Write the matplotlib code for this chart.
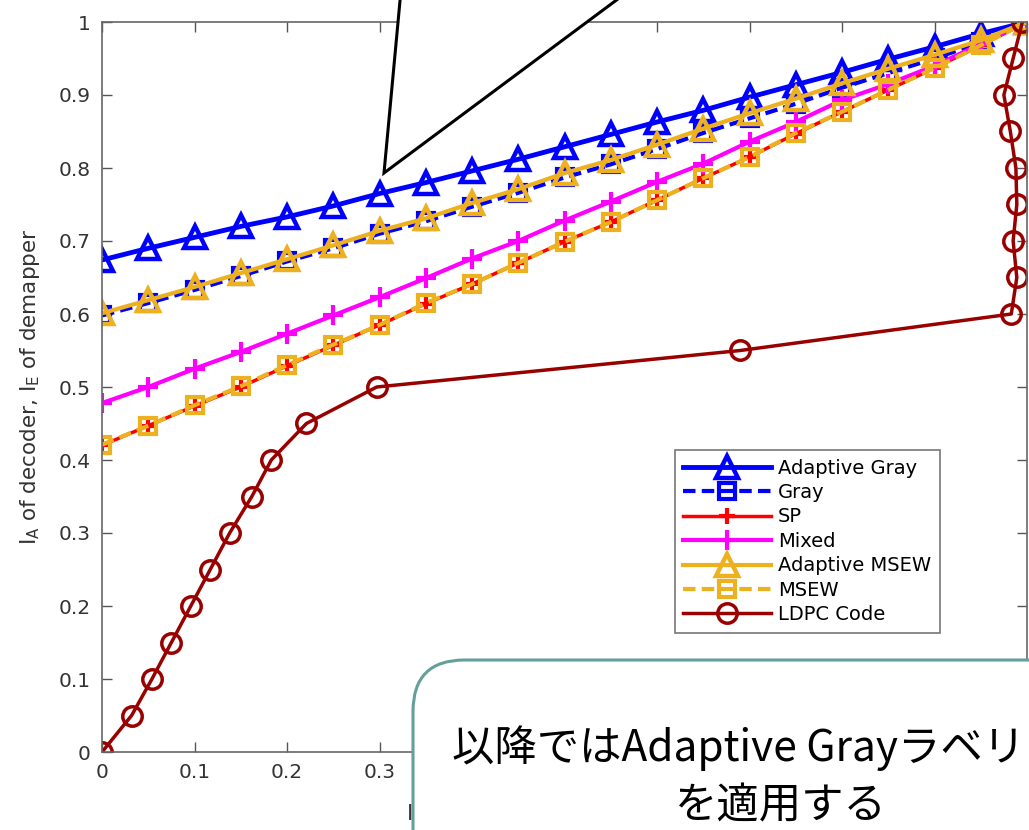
import matplotlib
matplotlib.use('Agg')
import matplotlib.pyplot as plt
from matplotlib.patches import Polygon, FancyBboxPatch
from matplotlib.ticker import FixedFormatter

# EXIT chart data
x_map = [0, 0.05, 0.1, 0.15, 0.2, 0.25, 0.3, 0.35, 0.4, 0.45, 0.5,
         0.55, 0.6, 0.65, 0.7, 0.75, 0.8, 0.85, 0.9, 0.95, 1.0]
adaptive_gray = [0.674, 0.69, 0.705, 0.72, 0.733, 0.748, 0.765, 0.78, 0.796, 0.812, 0.829,
                 0.846, 0.863, 0.879, 0.897, 0.914, 0.931, 0.949, 0.966, 0.984, 1.0]
gray = [0.598, 0.615, 0.633, 0.652, 0.672, 0.69, 0.71, 0.727, 0.747, 0.766, 0.787,
        0.805, 0.826, 0.848, 0.868, 0.888, 0.91, 0.93, 0.95, 0.972, 1.0]
sp = [0.42, 0.447, 0.474, 0.5, 0.529, 0.557, 0.585, 0.614, 0.641, 0.67, 0.699,
      0.726, 0.756, 0.786, 0.815, 0.847, 0.877, 0.907, 0.937, 0.968, 1.0]
mixed = [0.478, 0.5, 0.525, 0.548, 0.573, 0.598, 0.623, 0.649, 0.676, 0.7, 0.728,
         0.754, 0.781, 0.806, 0.836, 0.863, 0.893, 0.915, 0.94, 0.97, 1.0]
adaptive_msew = [0.601, 0.619, 0.637, 0.656, 0.675, 0.694, 0.714, 0.731, 0.752, 0.771, 0.793,
                 0.811, 0.832, 0.854, 0.875, 0.895, 0.916, 0.936, 0.955, 0.975, 1.0]
msew = [0.421, 0.447, 0.475, 0.501, 0.53, 0.558, 0.585, 0.615, 0.641, 0.67, 0.699,
        0.726, 0.756, 0.786, 0.815, 0.848, 0.877, 0.907, 0.937, 0.968, 1.0]

ldpc_x = [0, 0.032, 0.054, 0.075, 0.096, 0.117, 0.138, 0.162, 0.183, 0.221, 0.297,
          0.69, 0.983, 0.989, 0.985, 0.989, 0.988, 0.982, 0.975, 0.985, 0.995]
ldpc_y = [0, 0.05, 0.1, 0.15, 0.2, 0.25, 0.3, 0.35, 0.4, 0.45, 0.5,
          0.55, 0.6, 0.65, 0.7, 0.75, 0.8, 0.85, 0.9, 0.95, 1.0]

ticks = [0, 0.1, 0.2, 0.3, 0.4, 0.5, 0.6, 0.7, 0.8, 0.9, 1.0]
ytick_labels = ['0', '0.1', '0.2', '0.3', '0.4', '0.5', '0.6', '0.7', '0.8', '0.9', '1']
# the labels from 0.4 on sit under the callout box in the slide
xtick_labels = ['0', '0.1', '0.2', '0.3', '', '', '', '', '', '', '']

W, H = 1029, 830
fig = plt.figure(figsize=(W / 100, H / 100), dpi=100)
ax = fig.add_axes([102 / W, (H - 752) / H, 925 / W, 730 / H])

orange = '#EDB120'
ax.plot(x_map, adaptive_gray, color='blue', lw=3.5, marker='^', ms=16, mew=3.2,
        mfc='none', label='Adaptive Gray')
ax.plot(x_map, gray, color='blue', lw=3, ls=(0, (3, 1.5)), marker='s', ms=12, mew=3,
        mfc='none', label='Gray')
ax.plot(x_map, sp, color='red', lw=2.5, marker='+', ms=12, mew=3, label='SP')
ax.plot(x_map, mixed, color='#FF00FF', lw=3, marker='+', ms=14, mew=3, label='Mixed')
ax.plot(x_map, adaptive_msew, color=orange, lw=3, marker='^', ms=16, mew=3.2,
        mfc='none', label='Adaptive MSEW')
ax.plot(x_map, msew, color=orange, lw=3, ls=(0, (3, 1.5)), marker='s', ms=12, mew=3,
        mfc='none', label='MSEW')
ax.plot(ldpc_x, ldpc_y, color='#990000', lw=2.5, marker='o', ms=14, mew=2.5,
        mfc='none', label='LDPC Code')

ax.set_xlim(0, 1)
ax.set_ylim(0, 1)
ax.set_xticks(ticks)
ax.set_yticks(ticks)
ax.xaxis.set_major_formatter(FixedFormatter(xtick_labels))
ax.yaxis.set_major_formatter(FixedFormatter(ytick_labels))
ax.tick_params(direction='in', length=7, width=1, colors='#555555', labelcolor='#333333',
               labelsize=14.5, pad=8, top=True, right=True)
for s in ax.spines.values():
    s.set_color('#666666')
    s.set_linewidth(1.2)

lab_font = {'family': 'DejaVu Sans', 'size': 15.5, 'color': '#333333'}
ax.set_ylabel(r'I$_{\rm A}$ of decoder, I$_{\rm E}$ of demapper', fontdict=lab_font, labelpad=12)
ax.set_xlabel(r'I$_{\rm E}$ of decoder, I$_{\rm A}$ of demapper', fontdict=lab_font, labelpad=14)

leg = ax.legend(loc='lower left', bbox_to_anchor=(0.619, 0.163), borderaxespad=0,
                prop={'family': 'DejaVu Sans', 'size': 14}, handlelength=4.5,
                handletextpad=0.35, labelspacing=0.28, fancybox=False,
                framealpha=1, edgecolor='#777777', borderpad=0.45)
leg.get_frame().set_linewidth(1.2)


def px(x, y):
    return (x / W, 1 - y / H)


# speech bubble pointer (white fill, black outline)
bubble = Polygon([px(401, -10), px(384, 173), px(630, -10)], closed=True,
                 transform=fig.transFigure, facecolor='white', edgecolor='black',
                 lw=2.2, zorder=5)
fig.add_artist(bubble)

# rounded teal callout box
x0, y0 = px(413, 900)
x1, y1 = px(1120, 660)
box = FancyBboxPatch((x0, y0), x1 - x0, y1 - y0,
                     boxstyle='round,pad=0,rounding_size=0.05',
                     transform=fig.transFigure, facecolor='white',
                     edgecolor='#64A09A', lw=2.2, zorder=5, mutation_aspect=W / H)
fig.add_artist(box)

fig.text(781 / W, 1 - 777 / H, '以降ではAdaptive Grayラベリング\nを適用する',
         ha='center', va='center', family=['Noto Sans CJK JP', 'DejaVu Sans'],
         fontsize=30.5, color='black', zorder=6, linespacing=1.38)

fig.savefig('out.png', dpi=100)
